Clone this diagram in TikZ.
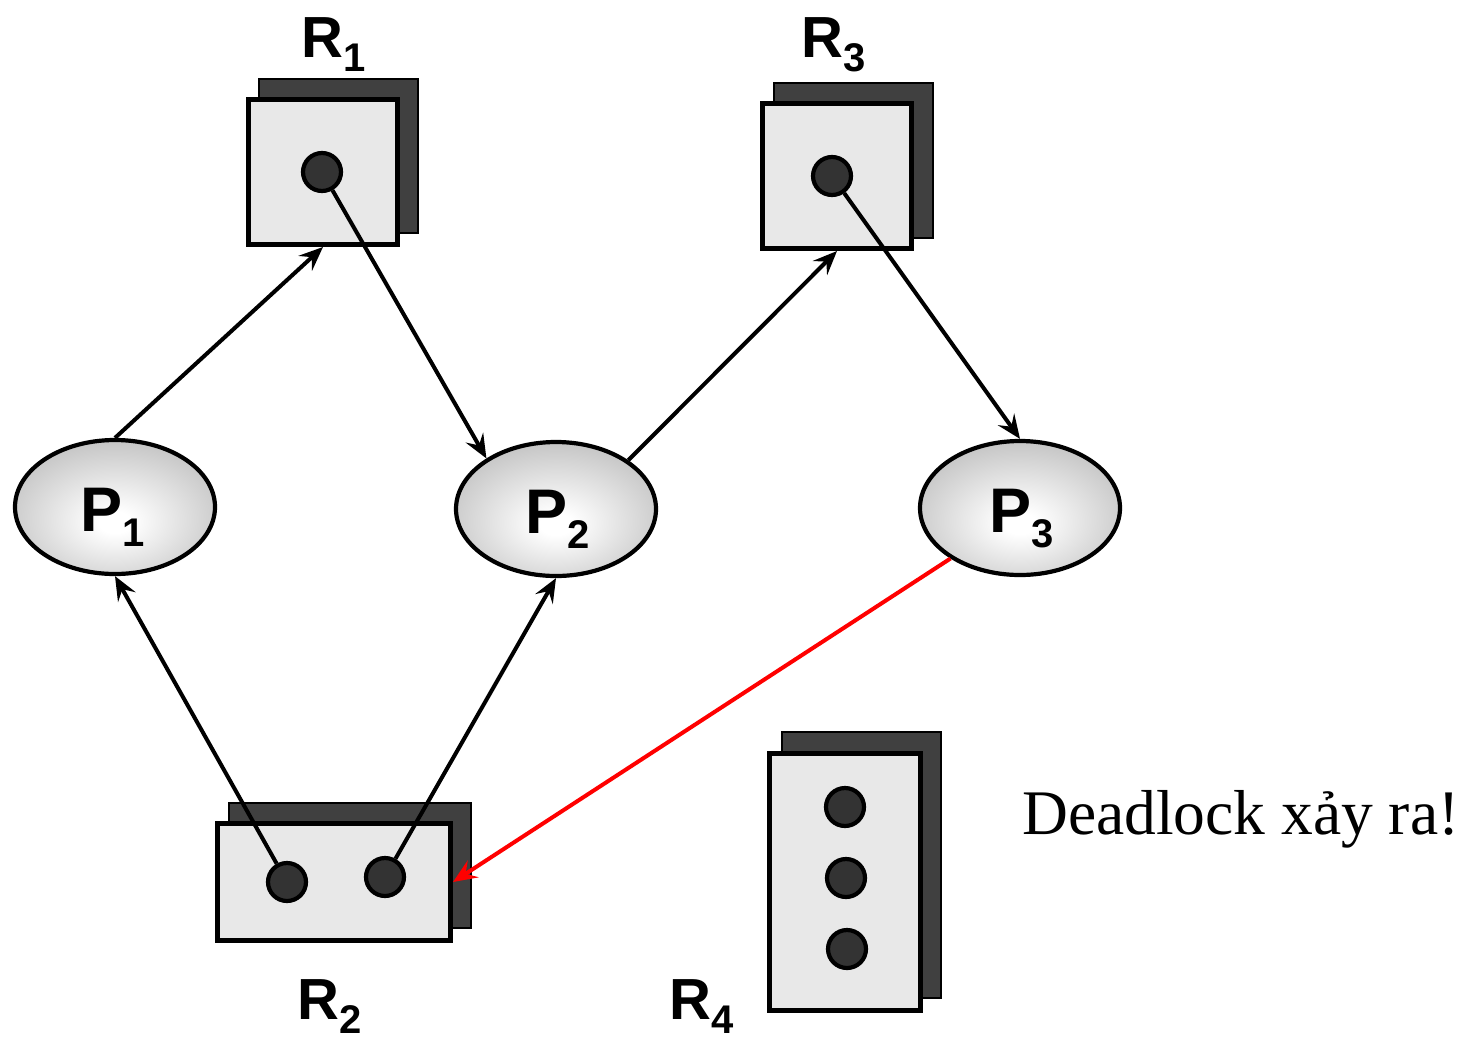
\documentclass[tikz,border=0pt]{standalone}
\usepackage{fontspec}
\setmainfont{Liberation Serif}
\setsansfont{Liberation Sans}
\usetikzlibrary{arrows.meta,shapes.geometric}
\definecolor{boxfill}{HTML}{E8E8E8}
\definecolor{shadowfill}{HTML}{404040}
\definecolor{dotfill}{HTML}{333333}
\pgfdeclareradialshading{pshade}{\pgfpoint{0bp}{-6bp}}{color(0bp)=(white); color(4bp)=(white); color(50bp)=(black!42); color(80bp)=(black!42)}
\newcommand\rlbl[2]{{\fontsize{58}{60}\selectfont #1}\raisebox{-14pt}[0pt][0pt]{\fontsize{40}{40}\selectfont #2}}
\newcommand\plbl[2]{{\fontsize{63}{64}\selectfont #1}\raisebox{-15pt}[0pt][0pt]{\fontsize{40}{40}\selectfont #2}}
\tikzset{
  shadowbox/.style={draw=black,line width=1.2pt,fill=shadowfill,rectangle,inner sep=0pt},
  frontbox/.style={draw=black,line width=5pt,fill=boxfill,rectangle,inner sep=0pt},
  res/.style={draw=black,line width=4.2pt,fill=dotfill,circle,minimum size=38pt,inner sep=0pt},
  proc/.style={draw=black,line width=4.2pt,ellipse,shading=pshade,minimum width=200pt,minimum height=134pt,inner sep=0pt},
  lab/.style={font=\sffamily\bfseries,inner sep=0pt,anchor=base},
  conn/.style={draw=black,line width=4pt,arrows={-Stealth[length=24pt,width=20pt,inset=9pt]}},
  redconn/.style={conn,draw=red}
}
\begin{document}
\begin{tikzpicture}[x=1pt,y=-1pt]
\useasboundingbox (0,0) rectangle (1472,1039);
% R1
\node[shadowbox,minimum width=159pt,minimum height=154pt] (r1s) at (338.5,156) {};
\node[frontbox,minimum width=149pt,minimum height=145pt] (r1) at (323,172) {};
\node[res] (r1d) at (322,172) {};
\node[lab] (r1l) at (334,57) {\rlbl{R}{1}};
% R3
\node[shadowbox,minimum width=159pt,minimum height=155pt] (r3s) at (853.5,160.5) {};
\node[frontbox,minimum width=149pt,minimum height=145pt] (r3) at (837,176) {};
\node[res] (r3d) at (832,176) {};
\node[lab] (r3l) at (834,57) {\rlbl{R}{3}};
% R2
\node[shadowbox,minimum width=242pt,minimum height=125pt] (r2s) at (350,865.5) {};
\node[frontbox,minimum width=233pt,minimum height=117pt] (r2) at (334,882) {};
\node[res] (r2a) at (287,882) {};
\node[res] (r2b) at (385,877) {};
\node[lab] (r2l) at (330,1019) {\rlbl{R}{2}};
% R4
\node[shadowbox,minimum width=159pt,minimum height=266pt] (r4s) at (861.5,865) {};
\node[frontbox,minimum width=151pt,minimum height=257pt] (r4) at (845,882) {};
\node[res] (r4a) at (845,807) {};
\node[res] (r4b) at (846,878) {};
\node[res] (r4c) at (847,949) {};
\node[lab] (r4l) at (702,1019) {\rlbl{R}{4}};
% Processes
\node[proc] (p1) at (115,507) {};
\node[proc] (p2) at (556,509) {};
\node[proc] (p3) at (1020,508) {};
\node[lab] (p1l) at (113,531) {\plbl{P}{1}};
\node[lab] (p2l) at (558,533) {\plbl{P}{2}};
\node[lab] (p3l) at (1022,532) {\plbl{P}{3}};
% text
\node[inner sep=0pt,anchor=base west,font=\fontsize{63.5}{66}\selectfont] (dl) at (1022,834) {Deadlock xảy ra!};
% edges
\path[conn] (p1.north) -- (r1.south);
\path[conn] (r1d) -- (p2.144);
\path[conn] (p2.34) -- (r3.south);
\path[conn] (r3d) -- (p3.north);
\path[conn] (r2a) -- (p1.south);
\path[conn] (r2b) -- (p2.south);
\path[redconn] (p3.216) -- (r2.east);
\end{tikzpicture}
\end{document}
